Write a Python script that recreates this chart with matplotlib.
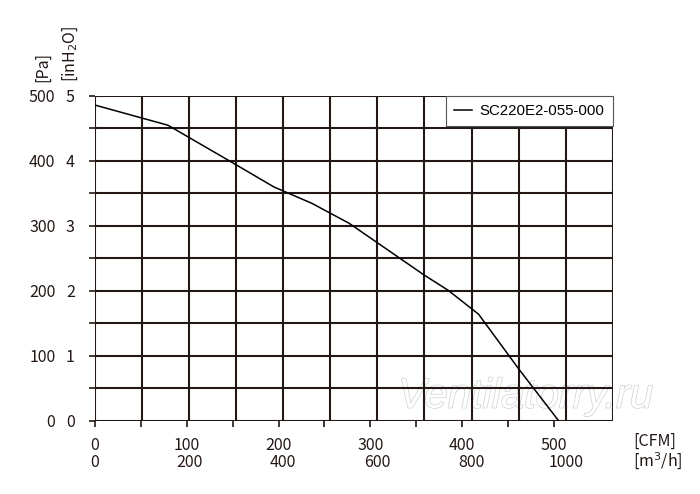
import matplotlib
matplotlib.use("Agg")
import matplotlib.pyplot as plt
import matplotlib.patheffects as pe
import numpy as np

# ---- data ----
flow_m3h = [0, 100, 155, 300, 380, 460, 540, 600, 700, 750, 815, 900, 985]
pressure_pa = [486, 466, 455, 394, 360, 335, 304, 274, 224, 201, 164, 80, 0]
series_name = "SC220E2-055-000"

pa_ticks = [0, 100, 200, 300, 400, 500]
inh2o_ticks = [0, 1, 2, 3, 4, 5]
cfm_ticks = [0, 100, 200, 300, 400, 500]
cfm_minor = [50, 150, 250, 350, 450]
m3h_ticks = [0, 200, 400, 600, 800, 1000]

# chart's own CFM axis scale (position in m3/h units per CFM)
CFM_SCALE = 1.95

W, H = 700, 494
fig = plt.figure(figsize=(W / 100, H / 100), dpi=100)
L, R, T, B = 95, 612.7, 96, 420.7
ax = fig.add_axes([L / W, 1 - B / H, (R - L) / W, (B - T) / H])

GRID = "#231815"
FONT = ["Noto Sans CJK JP", "DejaVu Sans"]
FS = 11.5

ax.set_xlim(0, 1100)
ax.set_ylim(0, 500)

for xv in np.arange(0, 1101, 100):
    ax.axvline(xv, color=GRID, lw=1.5, zorder=1)
for yv in np.arange(0, 501, 50):
    ax.axhline(yv, color=GRID, lw=1.5, zorder=1)
for s in ax.spines.values():
    s.set_visible(False)

ax.plot(flow_m3h, pressure_pa, color="black", lw=1.1, zorder=3, label=series_name)

# left Pa axis
ax.set_yticks(np.arange(0, 501, 50), minor=False)
ax.set_yticklabels([str(v) if v in pa_ticks else "" for v in np.arange(0, 501, 50)],
                   fontfamily=FONT, fontsize=FS, color="#231815")
ax.tick_params(axis="y", direction="out", length=4.5, width=1.2, color=GRID, pad=24)

# inH2O labels
sec_y = ax.secondary_yaxis("left", functions=(lambda y: y / 100, lambda y: y * 100))
sec_y.set_yticks(inh2o_ticks)
sec_y.set_yticklabels([str(v) for v in inh2o_ticks], fontfamily=FONT, fontsize=FS,
                      color="#231815")
sec_y.tick_params(length=0, pad=14.5)
sec_y.spines["left"].set_visible(False)

# bottom CFM axis
ax.set_xticks([c * CFM_SCALE for c in cfm_ticks])
ax.set_xticklabels([str(c) for c in cfm_ticks], fontfamily=FONT, fontsize=FS,
                   color="#231815")
ax.set_xticks([c * CFM_SCALE for c in cfm_minor], minor=True)
ax.tick_params(axis="x", which="both", direction="out", length=4, width=1.2,
               color=GRID, pad=8)

sec_x = ax.secondary_xaxis("bottom")
sec_x.set_xticks(m3h_ticks)
sec_x.set_xticklabels([str(v) for v in m3h_ticks], fontfamily=FONT, fontsize=FS,
                      color="#231815")
sec_x.tick_params(length=0, pad=24)
sec_x.spines["bottom"].set_visible(False)

# unit labels
fig.text(633 / W, 1 - 441 / H, "[CFM]", fontfamily=FONT, fontsize=FS,
         color="#231815", ha="left", va="center")
fig.text(633 / W, 1 - 461 / H, "[m$^3$/h]", fontfamily=FONT, fontsize=FS,
         color="#231815", ha="left", va="center")
fig.text(43 / W, 1 - 82 / H, "[Pa]", fontfamily=FONT, fontsize=FS,
         color="#231815", rotation=90, ha="center", va="bottom")
fig.text(70 / W, 1 - 82 / H, "[inH$_2$O]", fontfamily=FONT, fontsize=FS,
         color="#231815", rotation=90, ha="center", va="bottom")

leg = ax.legend(loc="upper right", borderaxespad=0, fancybox=False,
                framealpha=1, edgecolor="#555555", handlelength=1.2,
                handletextpad=0.5, borderpad=0.55,
                prop={"family": "Liberation Sans", "size": 10.8})
leg.get_frame().set_linewidth(0.8)
leg.set_zorder(5)

# watermark (beneath grid and curve)
ax.text(915, 37, "Ventilatorry.ru", fontfamily="Liberation Sans", style="italic",
        fontsize=30, color="white", ha="center", va="center", zorder=0.5,
        clip_on=False,
        path_effects=[pe.Stroke(linewidth=1.0, foreground="#d0d0d0"), pe.Normal()])

fig.savefig("out.png", dpi=100)
